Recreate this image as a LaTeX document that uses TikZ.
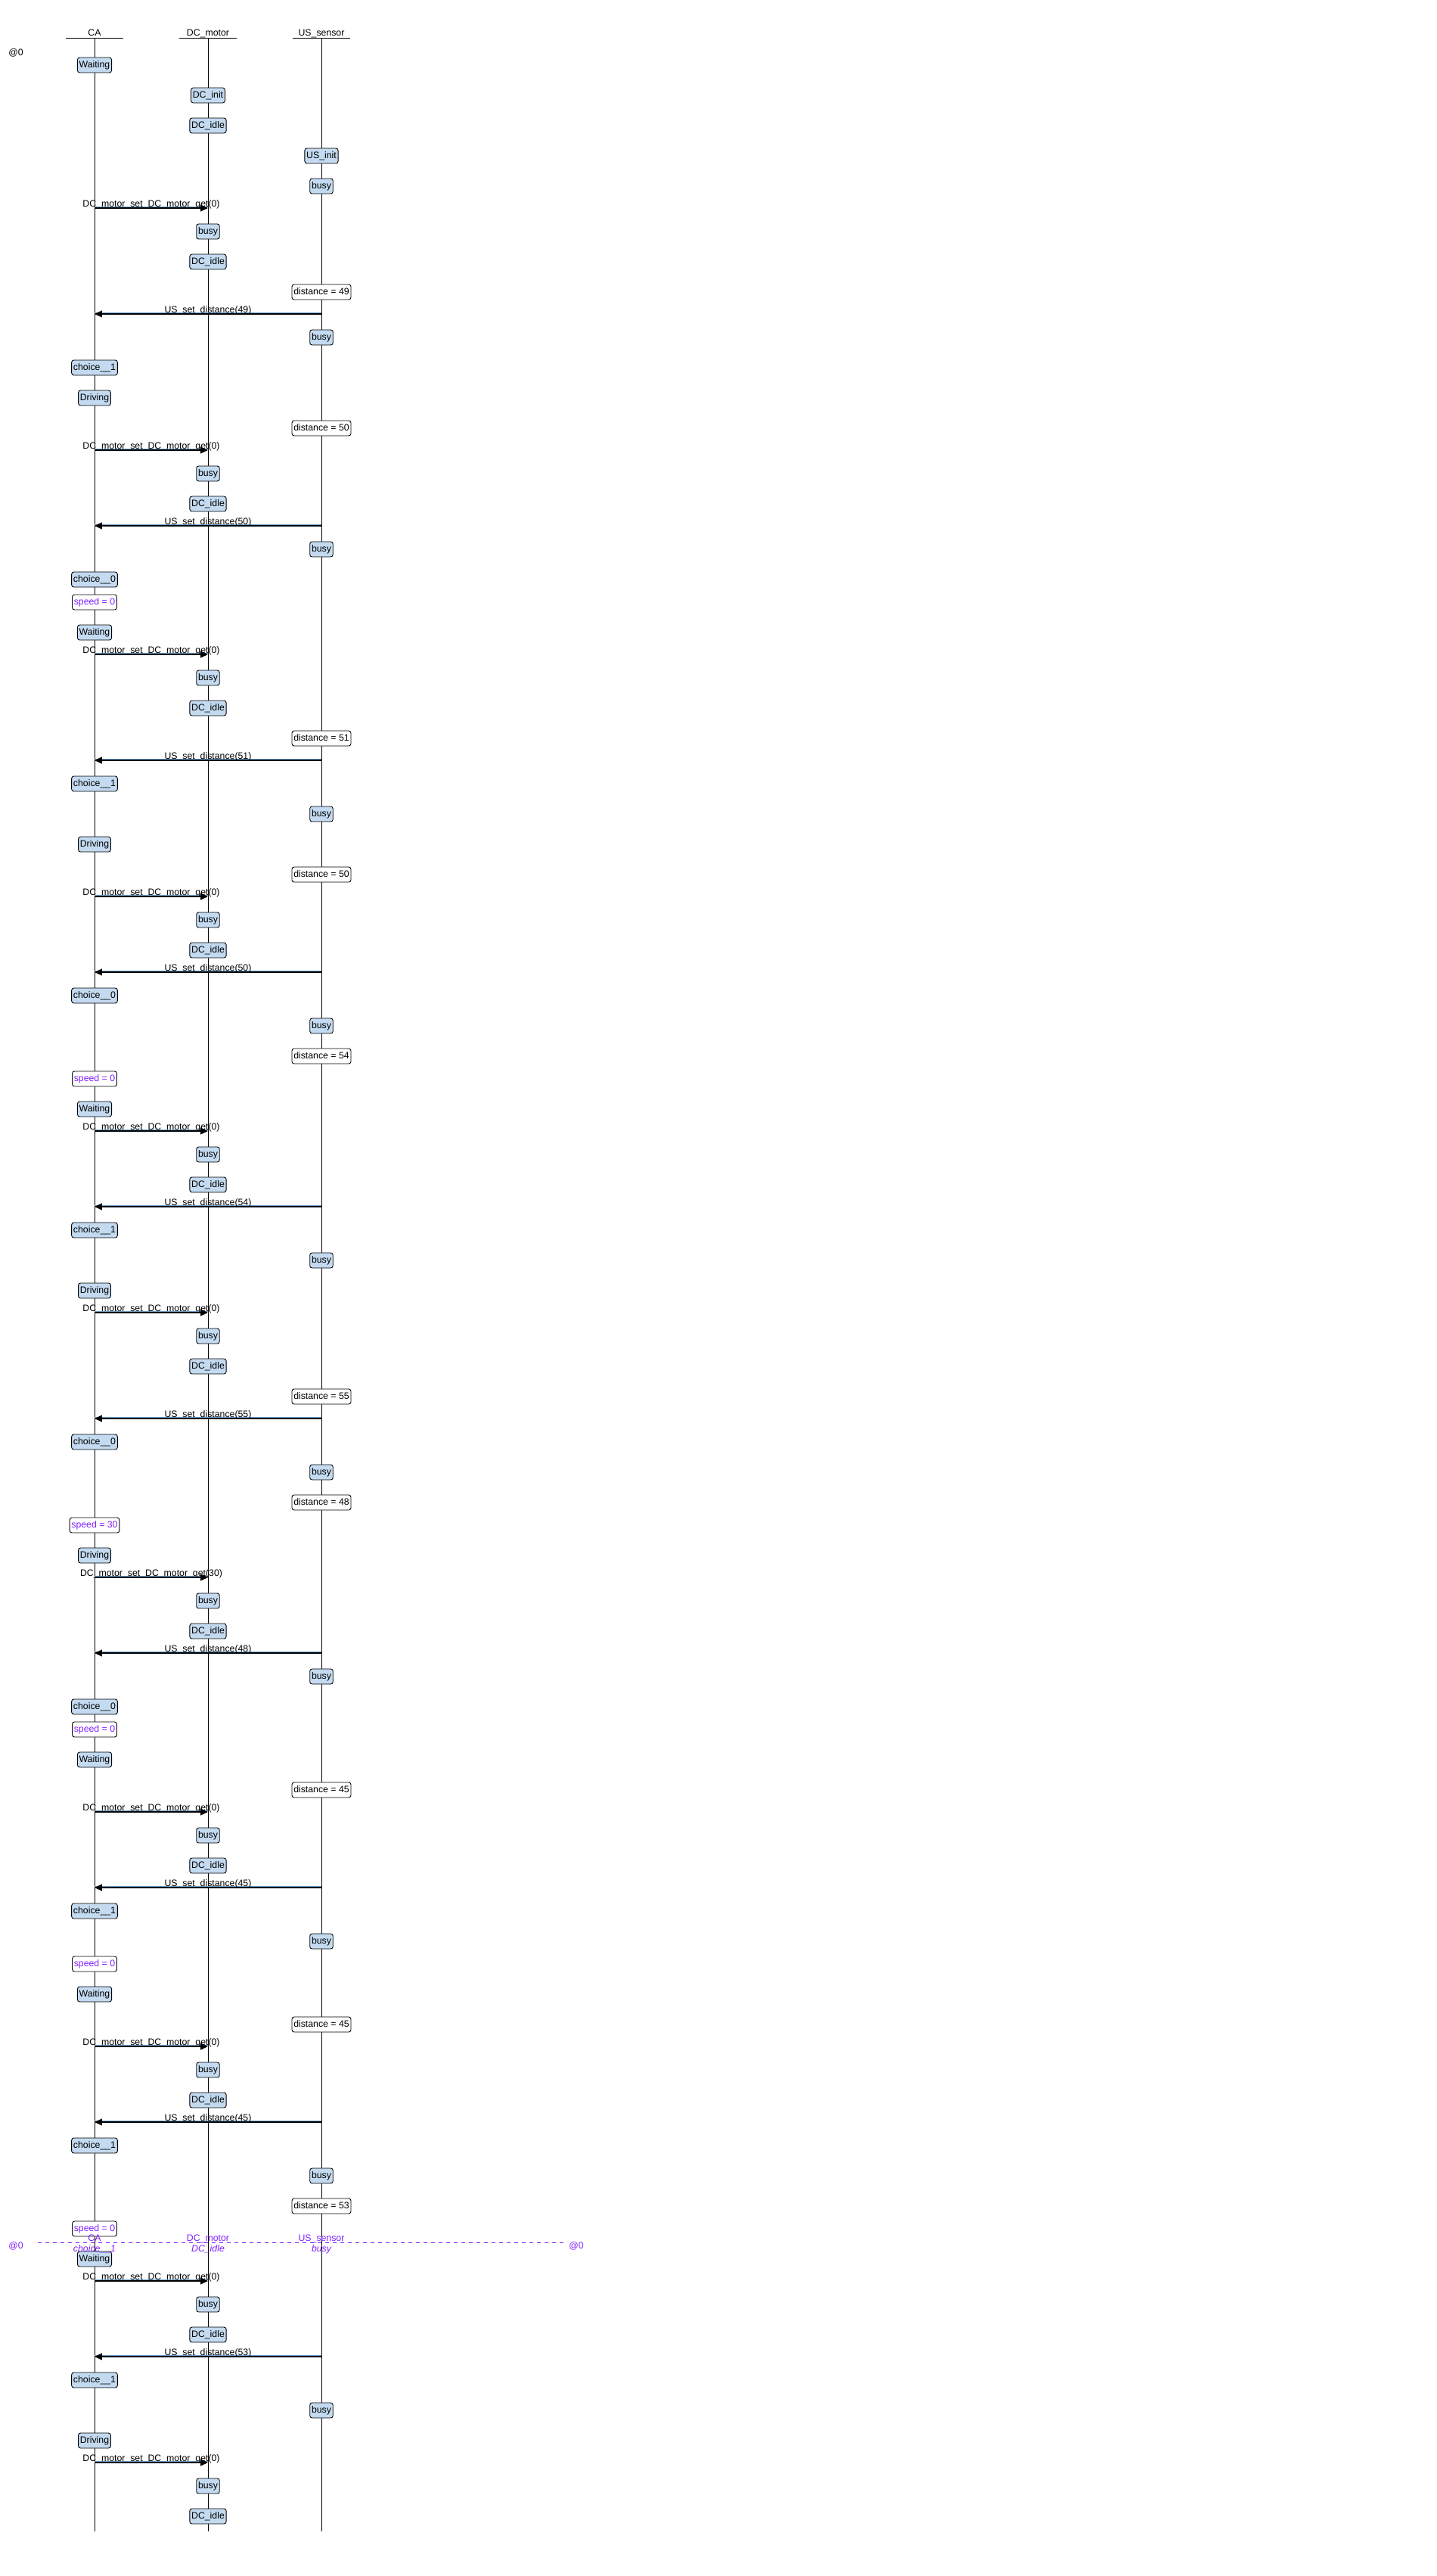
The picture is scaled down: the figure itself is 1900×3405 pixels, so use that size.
\documentclass[tikz,border=0pt]{standalone}
\usepackage{fontspec}
\setmainfont{Liberation Sans}
\usetikzlibrary{arrows.meta}
\definecolor{locblue}{RGB}{195,218,240}
\definecolor{updpurple}{RGB}{128,32,255}
\definecolor{msgblue}{RGB}{110,160,205}

\begin{document}
\begin{tikzpicture}[x=0.02cm, y=-0.02cm,
  every node/.style={font=\fontsize{7}{8.4}\selectfont},
  life/.style={line width=0.5pt},
  loc/.style={draw, line width=0.5pt, rounded corners=1.7pt, fill=locblue, inner xsep=1.3pt, inner ysep=0pt, minimum height=0.4cm, text height=5.2pt, text depth=1.5pt},
  upd/.style={loc, fill=white},
  spd/.style={upd, text=updpurple},
  msg/.style={line width=0.7pt, -{Triangle[length=0.2cm, width=0.18cm]}, preaction={-, draw=msgblue, line width=0.5pt, transform canvas={yshift=0.03cm}}},
  msglbl/.style={midway, anchor=base, yshift=0.035cm, inner sep=0pt},
  sepline/.style={updpurple, line width=0.5pt, dash pattern=on 0.1cm off 0.1cm},
  seplbl/.style={anchor=base, inner sep=0pt, text=updpurple}]
\useasboundingbox (0,0) rectangle (1900,3405);

% time stamp
\node[anchor=base west, inner sep=0pt] (t0) at (11,73) {@0};

% heads and lifelines
\foreach \lane/\x/\txt in {CA/125/CA, DC/275/DC\_motor, US/425/US\_sensor} {
  \node[anchor=base, inner sep=0pt] (\lane) at (\x,47.5) {\txt};
  \coordinate (\lane-l) at (\x-38,50);
  \coordinate (\lane-r) at (\x+38,50);
  \coordinate (\lane-top) at (\x,50);
  \coordinate (\lane-end) at (\x,3346);
  \draw[life] (\lane-l) -- (\lane-r);
  \draw[life] (\lane-top) -- (\lane-end);
}

% messages CA -> DC_motor
\foreach \y/\v in {275/0, 595/0, 865/0, 1185/0, 1495/0, 1735/0, 2085/30, 2395/0, 2705/0, 3015/0, 3255/0} {
  \coordinate (get\y-s) at (CA-top |- 0,\y);
  \coordinate (get\y-e) at (DC-top |- 0,\y);
  \draw[msg] (get\y-s) -- (get\y-e) node[msglbl] {DC\_motor\_set\_DC\_motor\_get(\v)};
}

% messages US_sensor -> CA
\foreach \y/\v in {415/49, 695/50, 1005/51, 1285/50, 1595/54, 1875/55, 2185/48, 2495/45, 2805/45, 3115/53} {
  \coordinate (dist\y-s) at (US-top |- 0,\y);
  \coordinate (dist\y-e) at (CA-top |- 0,\y);
  \draw[msg] (dist\y-s) -- (dist\y-e) node[msglbl] {US\_set\_distance(\v)};
}

% locations
\foreach \y/\lane/\txt in {86/CA/Waiting, 126/DC/DC\_init, 166/DC/DC\_idle, 206/US/US\_init, 246/US/busy,
  306/DC/busy, 346/DC/DC\_idle, 446/US/busy, 486/CA/choice\_\_1, 526/CA/Driving,
  626/DC/busy, 666/DC/DC\_idle, 726/US/busy, 766/CA/choice\_\_0, 836/CA/Waiting,
  896/DC/busy, 936/DC/DC\_idle, 1036/CA/choice\_\_1, 1076/US/busy, 1116/CA/Driving,
  1216/DC/busy, 1256/DC/DC\_idle, 1316/CA/choice\_\_0, 1356/US/busy, 1466/CA/Waiting,
  1526/DC/busy, 1566/DC/DC\_idle, 1626/CA/choice\_\_1, 1666/US/busy, 1706/CA/Driving,
  1766/DC/busy, 1806/DC/DC\_idle, 1906/CA/choice\_\_0, 1946/US/busy, 2056/CA/Driving,
  2116/DC/busy, 2156/DC/DC\_idle, 2216/US/busy, 2256/CA/choice\_\_0, 2326/CA/Waiting,
  2426/DC/busy, 2466/DC/DC\_idle, 2526/CA/choice\_\_1, 2566/US/busy, 2636/CA/Waiting,
  2736/DC/busy, 2776/DC/DC\_idle, 2836/CA/choice\_\_1, 2876/US/busy, 2986/CA/Waiting,
  3046/DC/busy, 3086/DC/DC\_idle, 3146/CA/choice\_\_1, 3186/US/busy, 3226/CA/Driving,
  3286/DC/busy, 3326/DC/DC\_idle} {
  \node[loc] (s\y) at (\lane-top |- 0,\y) {\txt};
}

% distance updates
\foreach \y/\v in {386/49, 566/50, 976/51, 1156/50, 1396/54, 1846/55, 1986/48, 2366/45, 2676/45, 2916/53} {
  \node[upd] (d\y) at (US-top |- 0,\y) {distance = \v};
}

% speed updates
\foreach \y/\v in {796/0, 1426/0, 2016/30, 2286/0, 2596/0, 2946/0} {
  \node[spd] (v\y) at (CA-top |- 0,\y) {speed = \v};
}

% snapshot line
\coordinate (sep-l) at (50,2964);
\coordinate (sep-r) at (745,2964);
\draw[sepline] (sep-l) -- (sep-r);
\node[seplbl, anchor=base west] (sepat-l) at (11,2972) {@0};
\node[seplbl, anchor=base west] (sepat-r) at (752,2972) {@0};
\foreach \lane/\txt/\st in {CA/CA/choice\_\_1, DC/DC\_motor/DC\_idle, US/US\_sensor/busy} {
  \node[seplbl] (snap-\lane) at (\lane-top |- 0,2962) {\txt};
  \node[seplbl, font=\fontsize{7}{8.4}\selectfont\itshape] (snapst-\lane) at (\lane-top |- 0,2976) {\st};
}
\end{tikzpicture}
\end{document}
